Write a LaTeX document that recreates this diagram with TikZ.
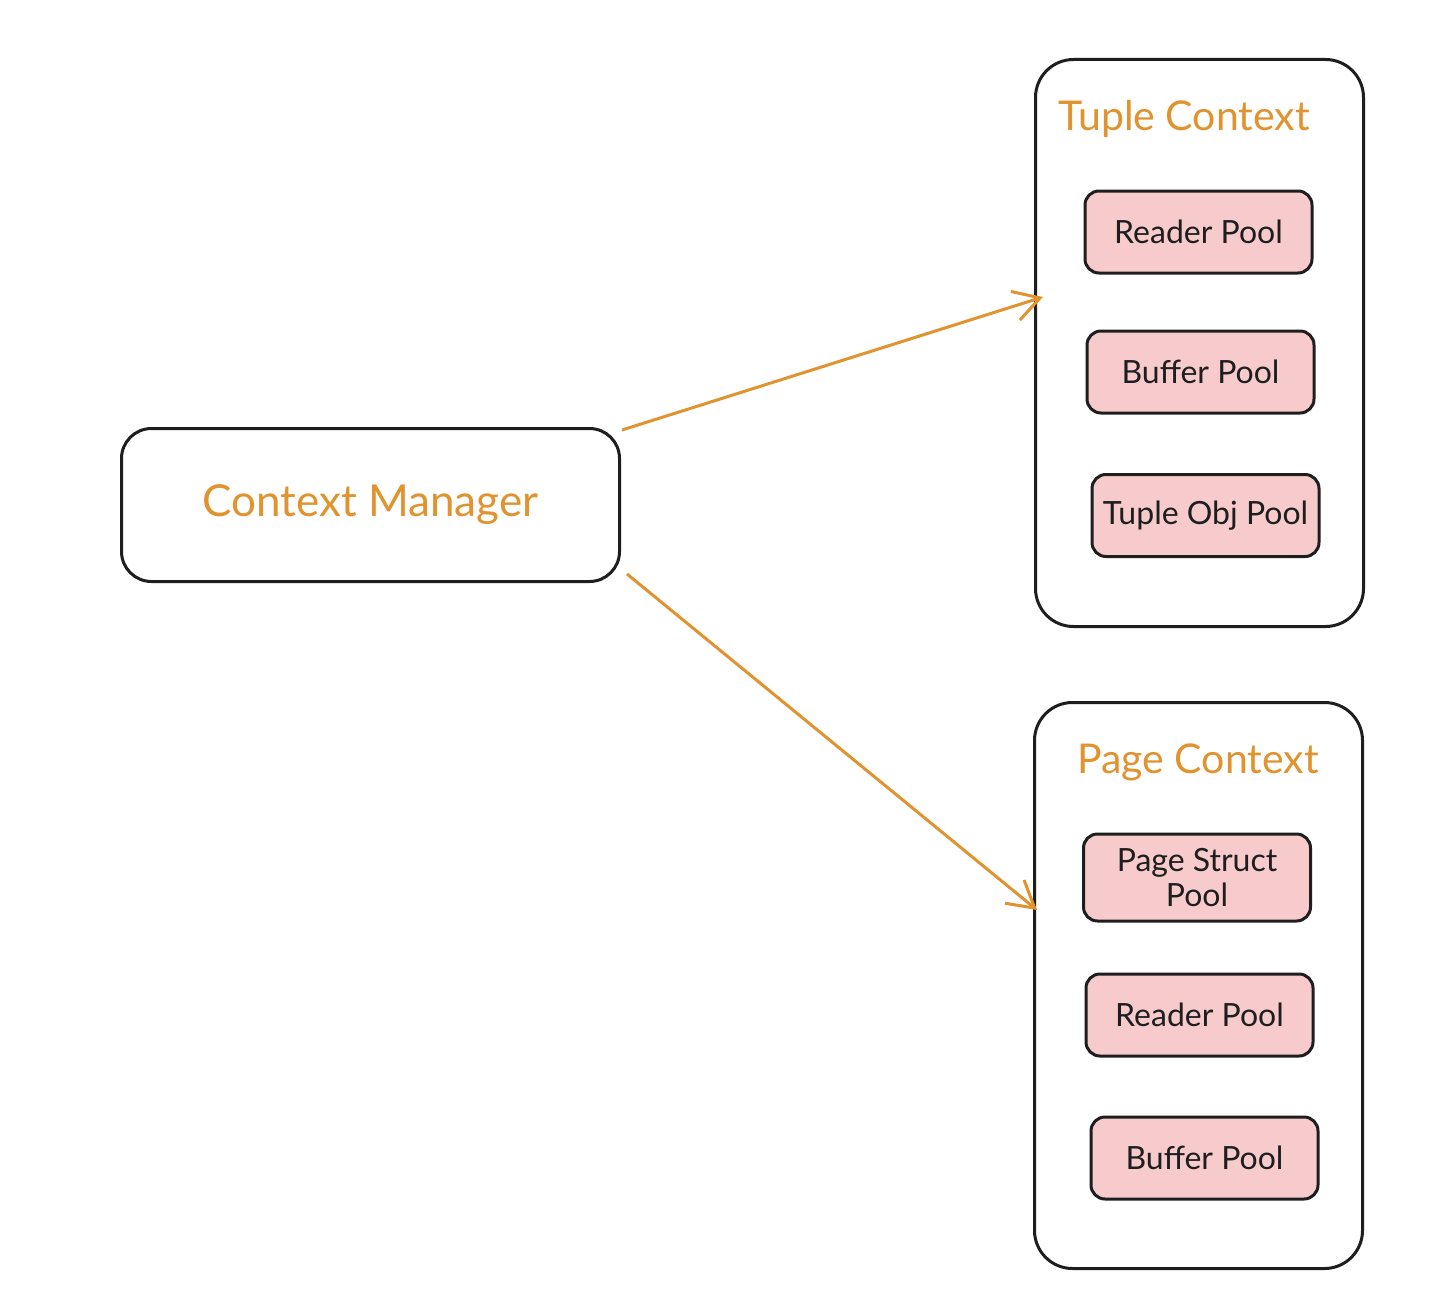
\documentclass[tikz,border=0pt]{standalone}
\usepackage{fontspec}
\setmainfont{Lato}
\usetikzlibrary{arrows.meta}
\definecolor{ink}{HTML}{1E1E1E}
\definecolor{accent}{HTML}{E0932F}
\definecolor{pinkfill}{HTML}{F7CBCB}
\tikzset{
  mainbox/.style={draw=ink, line width=3pt, rounded corners=30pt, fill=white},
  container/.style={draw=ink, line width=3pt, rounded corners=38pt},
  poolbox/.style={draw=ink, line width=3pt, rounded corners=14pt, fill=pinkfill,
    minimum width=227pt, minimum height=82pt, inner sep=0pt, align=center,
    font=\fontsize{32}{35}\selectfont, text=ink},
  titletext/.style={font=\fontsize{41}{44}\selectfont, text=accent},
  link/.style={draw=accent, line width=3pt, -{Straight Barb[length=26pt,width=30pt,line width=3pt]}}
}
\begin{document}
\begin{tikzpicture}[x=1pt,y=-1pt]
\useasboundingbox[fill=white] (0,0) rectangle (1436,1298);
% Context manager
\node[mainbox, minimum width=498pt, minimum height=153pt, anchor=north west, inner sep=0pt,
  font=\fontsize{44}{48}\selectfont, text=accent] (cm) at (120,427) {Context Manager};
% containers
\node[container, minimum width=328pt, minimum height=567pt, anchor=north west, inner sep=0pt] (tc) at (1034,58) {};
\node[container, minimum width=328pt, minimum height=566pt, anchor=north west, inner sep=0pt] (pc) at (1033,701) {};
\node[titletext] (tct) at (1184,119) {Tuple Context};
\node[titletext] (pct) at (1198,762) {Page Context};
% tuple pools
\node[poolbox] (rp1) at (1198.5,232) {Reader Pool};
\node[poolbox] (bp1) at (1200.5,372) {Buffer Pool};
\node[poolbox] (tp1) at (1205.5,515.5) {Tuple Obj Pool};
% page pools
\node[poolbox, minimum height=87pt] (ps2) at (1197,877.5) {Page Struct\\Pool};
\node[poolbox] (rp2) at (1199.5,1015) {Reader Pool};
\node[poolbox] (bp2) at (1204.5,1158) {Buffer Pool};
% arrows
\coordinate (s1) at (622,430);
\coordinate (e1) at (1043,297);
\coordinate (s2) at (627,574);
\coordinate (e2) at (1037,910);
\draw[link] (s1) -- (e1);
\draw[link] (s2) -- (e2);
\end{tikzpicture}
\end{document}
